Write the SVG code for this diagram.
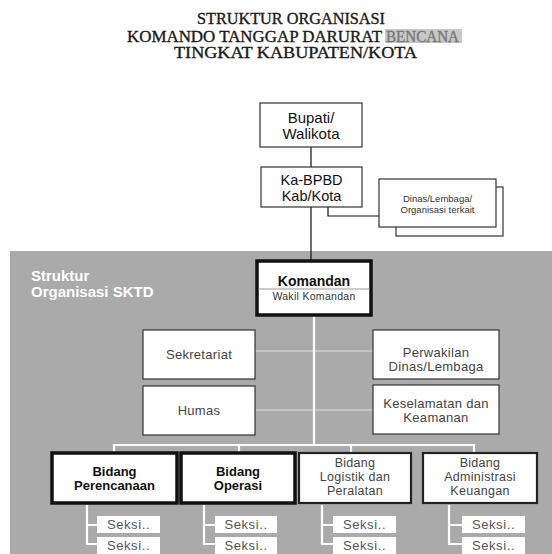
<svg xmlns="http://www.w3.org/2000/svg" width="552" height="554" viewBox="0 0 552 554">
<style>
.title{font-family:"Liberation Serif","Times New Roman",serif;font-size:16px;fill:#1a1a1a;stroke:#1a1a1a;stroke-width:0.35}
.sans{font-family:"Liberation Sans",Arial,sans-serif}
.box{fill:#fff;stroke:#333;stroke-width:1.2}
.thick{fill:#fff;stroke:#111;stroke-width:3.5}
.mid{fill:#fff;stroke:#222;stroke-width:2.2}
.seksi{fill:#fff;stroke:none}
.t15{font-size:15px;fill:#111;text-anchor:middle}
.t13{font-size:13px;fill:#444;text-anchor:middle;letter-spacing:0.3px}
.tl{font-size:12.5px;fill:#444;text-anchor:middle;letter-spacing:0.3px}
.tb{font-size:13px;font-weight:bold;fill:#111;text-anchor:middle}
.ts{font-size:13px;fill:#555;text-anchor:middle;letter-spacing:0.6px}
.blk{stroke:#111;stroke-width:1.2;fill:none}
.wht{stroke:#fff;stroke-width:2.2;fill:none}
.lt{stroke:#ddd;stroke-width:1;fill:none}
</style>
<rect width="552" height="554" fill="#fff"/>
<g id="title">
<text class="title" x="197" y="24" textLength="188" lengthAdjust="spacingAndGlyphs">STRUKTUR ORGANISASI</text>
<rect x="385" y="29" width="77" height="14" fill="#c8c8c8"/>
<text class="title" x="127" y="41.5" textLength="255" lengthAdjust="spacingAndGlyphs">KOMANDO TANGGAP DARURAT</text>
<text class="title" x="386" y="41.5" textLength="73" lengthAdjust="spacingAndGlyphs" style="fill:#777;stroke:#777">BENCANA</text>
<text class="title" x="174" y="58" textLength="243" lengthAdjust="spacingAndGlyphs">TINGKAT KABUPATEN/KOTA</text>
</g>
<rect id="sktd-area" x="10" y="251" width="542" height="303" fill="#aaaaaa"/>
<g id="sktd-label" class="sans" style="font-size:15px;font-weight:bold;fill:#fff">
<text x="31" y="281">Struktur</text>
<text x="31" y="297">Organisasi SKTD</text>
</g>
<g id="connectors">
<path class="blk" d="M311 147V167M311 207V261M328 207V216H379"/>
<path class="lt" d="M255 351H373M255 410H373"/>
<path class="wht" d="M314 316V445M114 445H474M114 444V453M239 444V453M351 444V453M474 444V453"/>
<path class="wht" d="M87 505V544H97M87 525H97M204 505V544H215M204 525H215M322 505V544H333M322 525H333M449 505V544H462M449 525H462"/>
</g>
<g id="bupati" class="sans">
<rect class="box" x="260" y="103" width="102" height="44"/>
<text class="t15" x="311" y="123">Bupati/</text>
<text class="t15" x="311" y="139">Walikota</text>
</g>
<g id="ka-bpbd" class="sans">
<rect class="box" x="261" y="167" width="101" height="40"/>
<text class="t15" x="311.5" y="184.5" style="font-size:14.5px">Ka-BPBD</text>
<text class="t15" x="311.5" y="201" style="font-size:14.5px">Kab/Kota</text>
</g>
<g id="dinas" class="sans">
<rect class="box" x="396" y="187" width="107" height="49"/>
<rect class="box" x="379" y="179" width="117" height="48"/>
<text x="437.5" y="202" style="font-size:9.5px;fill:#333;text-anchor:middle">Dinas/Lembaga/</text>
<text x="437.5" y="213" style="font-size:9.5px;fill:#333;text-anchor:middle">Organisasi terkait</text>
</g>
<g id="komandan" class="sans">
<rect class="thick" x="257" y="261" width="114" height="54"/>
<line x1="258.5" y1="289" x2="369.5" y2="289" stroke="#999" stroke-width="1"/>
<text class="t15" x="314" y="286" style="font-size:14px;font-weight:bold">Komandan</text>
<text x="314" y="300" style="font-size:10.5px;fill:#333;text-anchor:middle;letter-spacing:0.3px">Wakil Komandan</text>
</g>
<g id="sekretariat" class="sans">
<rect class="box" x="143" y="330" width="112" height="49"/>
<text class="t13" x="199" y="359">Sekretariat</text>
</g>
<g id="humas" class="sans">
<rect class="box" x="143" y="386" width="112" height="49"/>
<text class="t13" x="199" y="415">Humas</text>
</g>
<g id="perwakilan" class="sans">
<rect class="box" x="373" y="330" width="126" height="49"/>
<text class="t13" x="436" y="357">Perwakilan</text>
<text class="t13" x="436" y="371">Dinas/Lembaga</text>
</g>
<g id="keselamatan" class="sans">
<rect class="box" x="373" y="385" width="126" height="49"/>
<text class="t13" x="436" y="408">Keselamatan dan</text>
<text class="t13" x="436" y="422">Keamanan</text>
</g>
<g id="bidang-perencanaan" class="sans">
<rect class="thick" x="52" y="453" width="125" height="50"/>
<text class="tb" x="114.5" y="476">Bidang</text>
<text class="tb" x="114.5" y="490">Perencanaan</text>
</g>
<g id="bidang-operasi" class="sans">
<rect class="thick" x="181" y="453" width="114" height="50"/>
<text class="tb" x="238" y="476">Bidang</text>
<text class="tb" x="238" y="490">Operasi</text>
</g>
<g id="bidang-logistik" class="sans">
<rect class="mid" x="299" y="453" width="112" height="50"/>
<text class="tl" x="355" y="467">Bidang</text>
<text class="tl" x="355" y="481">Logistik dan</text>
<text class="tl" x="355" y="495">Peralatan</text>
</g>
<g id="bidang-administrasi" class="sans">
<rect class="mid" x="423" y="453" width="114" height="50"/>
<text class="tl" x="480" y="467">Bidang</text>
<text class="tl" x="480" y="481">Administrasi</text>
<text class="tl" x="480" y="495">Keuangan</text>
</g>
<g id="seksi-perencanaan" class="sans">
<rect class="seksi" x="97" y="516" width="63" height="17"/>
<text class="ts" x="128.5" y="529">Seksi..</text>
<rect class="seksi" x="97" y="537" width="63" height="17"/>
<text class="ts" x="128.5" y="550">Seksi..</text>
</g>
<g id="seksi-operasi" class="sans">
<rect class="seksi" x="215" y="516" width="62" height="17"/>
<text class="ts" x="246" y="529">Seksi..</text>
<rect class="seksi" x="215" y="537" width="62" height="17"/>
<text class="ts" x="246" y="550">Seksi..</text>
</g>
<g id="seksi-logistik" class="sans">
<rect class="seksi" x="333" y="516" width="63" height="17"/>
<text class="ts" x="364.5" y="529">Seksi..</text>
<rect class="seksi" x="333" y="537" width="63" height="17"/>
<text class="ts" x="364.5" y="550">Seksi..</text>
</g>
<g id="seksi-administrasi" class="sans">
<rect class="seksi" x="462" y="516" width="63" height="17"/>
<text class="ts" x="493.5" y="529">Seksi..</text>
<rect class="seksi" x="462" y="537" width="63" height="17"/>
<text class="ts" x="493.5" y="550">Seksi..</text>
</g>
</svg>
